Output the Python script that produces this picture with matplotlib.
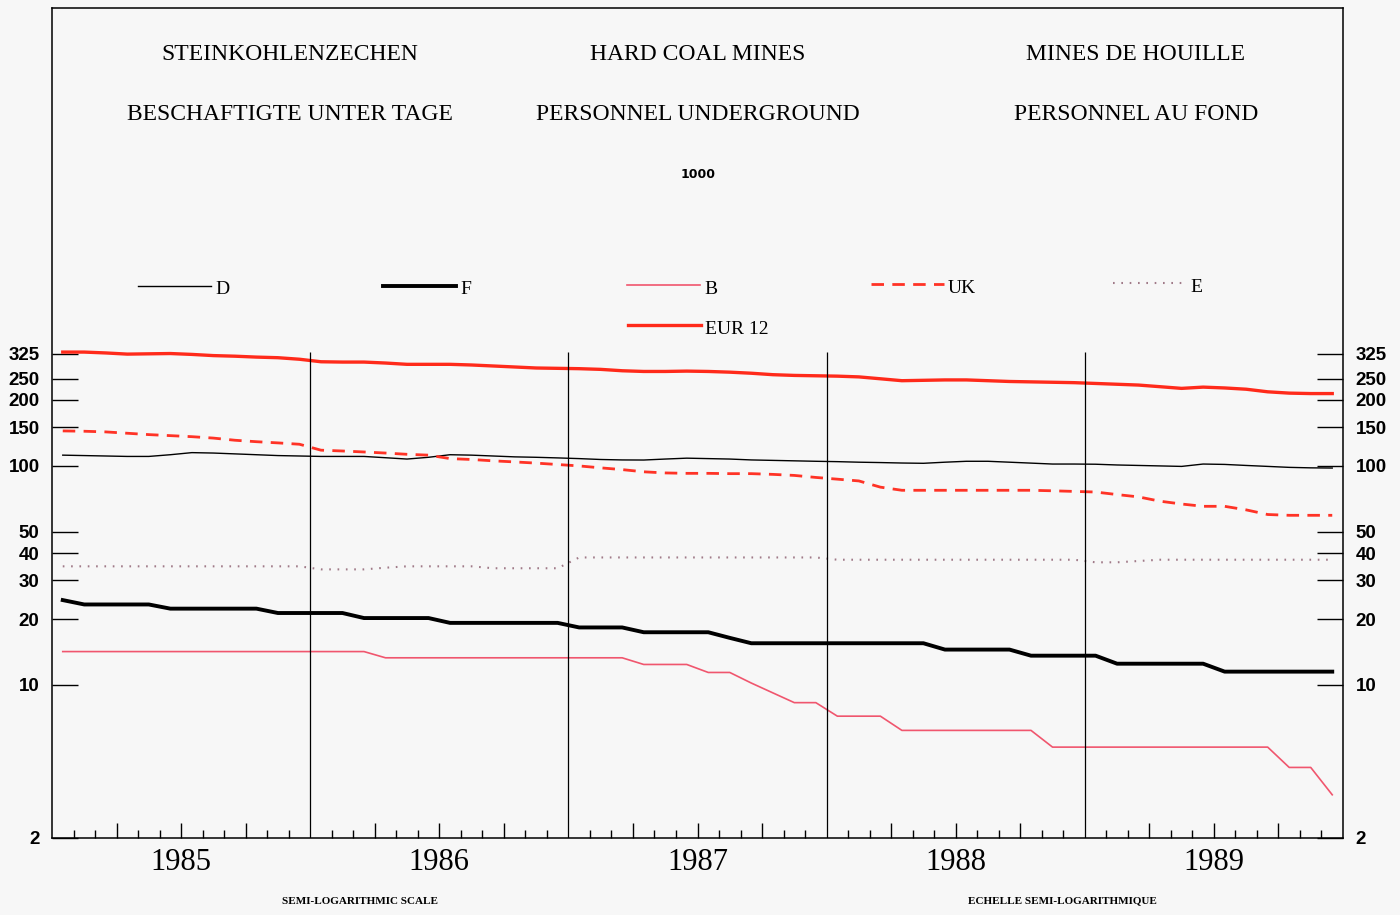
import matplotlib.pyplot as plt
import numpy as np
from matplotlib.ticker import FixedLocator, FixedFormatter, FuncFormatter, NullLocator

# monthly values, thousands of underground workers
years = [1985, 1986, 1987, 1988, 1989]

eur12 = [331, 331, 328, 324, 325, 326, 323, 319, 317, 314, 312, 307,
         299, 298, 298, 295, 291, 291, 291, 289, 286, 283, 280, 279,
         278, 276, 272, 270, 270, 271, 270, 268, 265, 261, 259, 258,
         257, 255, 250, 245, 246, 247, 247, 245, 243, 242, 241, 240,
         238, 236, 234, 230, 226, 229, 227, 224, 218, 215, 214, 214]
uk = [144.5, 144, 143, 141, 139, 137.5, 136, 134, 131, 129, 127.4, 125.6,
      118, 117, 115.8, 114.5, 113, 112, 108, 107, 105.5, 104.3, 103, 101.5,
      100, 98, 96.2, 94, 92.9, 92.5, 92.5, 92.2, 92.2, 91.5, 90.5, 88.6,
      87, 85.4, 80, 77.4, 77.4, 77.4, 77.4, 77.4, 77.4, 77.4, 77, 76.5,
      76, 74, 72.2, 69, 67, 65.4, 65.4, 63, 60, 59.5, 59.5, 59.5]
d = [112, 111.5, 111, 110.5, 110.5, 112.5, 115, 114.5, 113.5, 112.5, 111.5, 111,
     110.5, 110.5, 110.5, 109, 107.5, 109.5, 112.5, 112, 111, 110, 109.5, 108.8,
     108, 107, 106.5, 106.4, 107.5, 108.5, 108, 107.5, 106.5, 106, 105.5, 105,
     104.6, 104, 103.6, 103.1, 102.8, 104, 105, 105, 104, 103, 102, 102,
     101.8, 101, 100.5, 100, 99.5, 102, 101.6, 100.5, 99.5, 98.5, 98, 97.8]
e = [34.8] * 12 + \
    [33.7, 33.7, 33.7, 34.3, 34.8, 34.8, 34.8, 34.8, 34.1, 34.1, 34.1, 34.1] + \
    [38.2] * 12 + \
    [37.3] * 12 + \
    [36.3, 36.3, 36.8, 37.3, 37.3, 37.3, 37.3, 37.3, 37.3, 37.3, 37.3, 37.3]
f = [24.4, 23.3, 23.3, 23.3, 23.3, 22.3, 22.3, 22.3, 22.3, 22.3, 21.3, 21.3,
     21.3, 21.3, 20.2, 20.2, 20.2, 20.2, 19.2, 19.2, 19.2, 19.2, 19.2, 19.2,
     18.3, 18.3, 18.3, 17.4, 17.4, 17.4, 17.4, 16.4, 15.5, 15.5, 15.5, 15.5,
     15.5, 15.5, 15.5, 15.5, 15.5, 14.5, 14.5, 14.5, 14.5, 13.6, 13.6, 13.6,
     13.6, 12.5, 12.5, 12.5, 12.5, 12.5, 11.5, 11.5, 11.5, 11.5, 11.5, 11.5]
b = [14.2] * 12 + \
    [14.2, 14.2, 14.2, 13.3, 13.3, 13.3, 13.3, 13.3, 13.3, 13.3, 13.3, 13.3] + \
    [13.3, 13.3, 13.3, 12.4, 12.4, 12.4, 11.4, 11.4, 10.2, 9.2, 8.3, 8.3] + \
    [7.2, 7.2, 7.2, 6.2, 6.2, 6.2, 6.2, 6.2, 6.2, 6.2, 5.2, 5.2] + \
    [5.2, 5.2, 5.2, 5.2, 5.2, 5.2, 5.2, 5.2, 5.2, 4.2, 4.2, 3.15]

yticks = [2, 10, 20, 30, 40, 50, 100, 150, 200, 250, 325]

t = years[0] + (np.arange(len(eur12)) + 0.5) / 12

W, H = 1400, 915
AX_L, AX_R, AX_T, AX_B = 52, 1343, 8, 838

serif = 'Liberation Serif'
bg = '#f7f7f7'

fig = plt.figure(figsize=(W / 100, H / 100), dpi=100, facecolor=bg)
ax = fig.add_axes([AX_L / W, 1 - AX_B / H, (AX_R - AX_L) / W, (AX_B - AX_T) / H])
ax.set_facecolor(bg)

styles = {
    'D': dict(color='black', lw=1.0),
    'F': dict(color='black', lw=2.8),
    'B': dict(color='#f0566e', lw=1.2),
    'UK': dict(color='#ff3326', lw=2.0, ls=(0, (4.5, 3))),
    'E': dict(color='#a07a88', lw=1.5, ls=(0, (0.8, 3.2))),
    'EUR 12': dict(color='#ff2a1a', lw=2.4),
}
series = {'D': d, 'F': f, 'B': b, 'UK': uk, 'E': e, 'EUR 12': eur12}
for name, vals in series.items():
    ax.plot(t, vals, **styles[name])

# year separators
ax.vlines(years[1:], 2, 333, color='black', lw=0.9)

ax.set_yscale('log')
ax.set_ylim(2, 2 * 10 ** ((AX_B - AX_T) / 219))
ax.set_xlim(years[0], years[-1] + 1)

ax.yaxis.set_major_locator(FixedLocator(yticks))
ax.yaxis.set_major_formatter(FixedFormatter([str(v) for v in yticks]))
ax.yaxis.set_minor_locator(NullLocator())
ax.tick_params(axis='y', which='major', direction='in', length=19, width=1.0,
               left=True, right=True, labelleft=True, labelright=True,
               pad=9, labelsize=13.5)
for lab in ax.get_yticklabels():
    lab.set_family('Liberation Sans')
    lab.set_weight('bold')

quarters = [yr + q / 4 for yr in years for q in (1, 2, 3)]
months = [yr + m / 12 for yr in years for m in range(1, 12) if m % 3]
ax.xaxis.set_major_locator(FixedLocator(quarters))
ax.xaxis.set_minor_locator(FixedLocator(months))
ax.xaxis.set_major_formatter(FuncFormatter(
    lambda x, p: str(int(x)) if abs(x % 1 - 0.5) < 1e-6 else ''))
ax.tick_params(axis='x', which='major', direction='in', length=11, width=1.0,
               pad=7, labelsize=22)
ax.tick_params(axis='x', which='minor', direction='in', length=6, width=1.0)
for lab in ax.get_xticklabels():
    lab.set_family(serif)

for sp in ax.spines.values():
    sp.set_linewidth(1.1)


def fx(x):
    return x / W


def fy(y):
    return 1 - y / H


# titles (German / English / French)
titles = [
    (290, 'STEINKOHLENZECHEN', 'BESCHAFTIGTE UNTER TAGE'),
    (698, 'HARD COAL MINES', 'PERSONNEL UNDERGROUND'),
    (1136, 'MINES DE HOUILLE', 'PERSONNEL AU FOND'),
]
for cx, l1, l2 in titles:
    fig.text(fx(cx), fy(55), l1, ha='center', va='center', family=serif, fontsize=17)
    fig.text(fx(cx), fy(115), l2, ha='center', va='center', family=serif, fontsize=17)
fig.text(fx(698), fy(174), '1000', ha='center', va='center', family='DejaVu Sans',
         fontsize=9, weight='bold')

# legend keys
legend_pos = [
    ('D', 138, 286), ('F', 383, 286), ('B', 627, 285),
    ('UK', 871, 284), ('E', 1113, 283), ('EUR 12', 628, 325),
]
for name, x0, y0 in legend_pos:
    fig.add_artist(plt.Line2D([fx(x0), fx(x0 + 73)], [fy(y0), fy(y0)],
                              transform=fig.transFigure, **styles[name]))
    fig.text(fx(x0 + 77), fy(y0 + 4), name, ha='left', va='center',
             family=serif, fontsize=14)

fig.text(fx(360), fy(902), 'SEMI-LOGARITHMIC SCALE', ha='center', va='center',
         family=serif, fontsize=8, weight='bold')
fig.text(fx(1062), fy(901), 'ECHELLE SEMI-LOGARITHMIQUE', ha='center', va='center',
         family=serif, fontsize=8, weight='bold')

fig.savefig('out.png', dpi=100, facecolor=bg)
